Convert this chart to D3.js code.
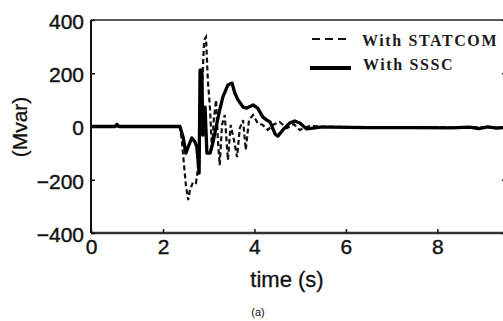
<!DOCTYPE html>
<html>
<head>
<meta charset="utf-8">
<script src="https://cdn.jsdelivr.net/npm/d3@7"></script>
<style>
  body { margin: 0; background: #fff; }
  svg { display: block; }
  .tick-label { font-family: "Liberation Sans", Arial, sans-serif; font-size: 21px; fill: #111; stroke: #111; stroke-width: 0.4px; }
  .legend-text { font-family: "Liberation Serif", "Times New Roman", serif; font-size: 16px; font-weight: bold; letter-spacing: 1.6px; fill: #1a1a1a; }
</style>
</head>
<body>
<svg id="chart"></svg>
<script>
// chart values
var xTicks = [0, 2, 4, 6, 8],
    yTicks = [-400, -200, 0, 200, 400];

var ssscT = [0, 0.67, 0.72, 0.78, 2.37, 2.44, 2.50, 2.55, 2.63, 2.70, 2.74, 2.79, 2.81, 2.85, 2.87, 2.92, 2.96,
             3.03, 3.09, 3.18, 3.24, 3.31, 3.42, 3.51, 3.57, 3.64, 3.75, 3.83, 3.97, 4.07, 4.18, 4.27, 4.34,
             4.45, 4.51, 4.62, 4.77, 4.88, 4.99, 5.14, 5.28, 5.43, 5.65, 6.5, 7.5, 8.3, 8.7, 8.9, 9.1, 9.3, 9.5];
var ssscQ = [0, 0, 8, 0, 0, -40, -100, -77, -43, -58, -77, -175, 212, 212, -32, 73, -100,
             -100, -62, 13, 62, 111, 156, 163, 126, 100, 73, 69, 81, 69, 36, 24, 17,
             -28, -36, -13, 13, 21, 13, -9, -6, -2, -2, -4, -4, -5, -2, -8, -1, -6, -3];

var statcomT = [0, 2.37, 2.41, 2.46, 2.50, 2.55, 2.59, 2.66, 2.72, 2.76, 2.83, 2.90, 2.94, 2.98, 3.03, 3.07,
                3.11, 3.16, 3.20, 3.24, 3.29, 3.35, 3.42, 3.48, 3.55, 3.62, 3.68, 3.75, 3.81, 3.88, 3.97,
                4.07, 4.18, 4.29, 4.40, 4.55, 4.71, 4.86, 4.99, 5.21, 5.43, 6.5, 7.5, 8.5, 9.5];
var statcomQ = [0, 0, -50, -145, -220, -276, -238, -208, -212, -163, 62, 325, 336, 175, 62, -88,
                24, 100, -50, -145, 6, 43, -126, 6, -50, -115, -6, 24, -88, 24, 43,
                13, 6, -13, 6, 17, -6, 9, -13, 2, 0, -3, -2, -3, -3];

var legendNames = ["With STATCOM", "With SSSC"];

var width = 503,
    height = 321;

var svg = d3.select("#chart")
    .attr("width", width)
    .attr("height", height);

// the printed axis is compressed between 0 and 2, so the scale is piecewise
var x = d3.scaleLinear().domain([0, 2, 9.5]).range([91, 163, 506]);
var y = d3.scaleLinear().domain([-400, 400]).range([233, 20]);

svg.append("clipPath").attr("id", "plotclip")
    .append("rect")
    .attr("x", x(0)).attr("y", y(400))
    .attr("width", x(9.5) - x(0)).attr("height", y(-400) - y(400));

var line = d3.line()
    .x(function(d) { return x(d[0]); })
    .y(function(d) { return y(d[1]); });

var plot = svg.append("g").attr("clip-path", "url(#plotclip)");

plot.append("path")
    .datum(d3.zip(statcomT, statcomQ))
    .attr("d", line)
    .attr("fill", "none")
    .attr("stroke", "#111")
    .attr("stroke-width", 2.2)
    .attr("stroke-dasharray", "5,3");

plot.append("path")
    .datum(d3.zip(ssscT, ssscQ))
    .attr("d", line)
    .attr("fill", "none")
    .attr("stroke", "#000")
    .attr("stroke-width", 3.3)
    .attr("stroke-linejoin", "round");

// frame
svg.append("line")
    .attr("x1", x(0)).attr("x2", width).attr("y1", y(400)).attr("y2", y(400))
    .attr("stroke", "#222").attr("stroke-width", 1.5);
svg.append("line")
    .attr("x1", x(0)).attr("x2", x(9.5)).attr("y1", y(-400)).attr("y2", y(-400))
    .attr("stroke", "#333").attr("stroke-width", 2.5);
svg.append("line")
    .attr("x1", x(0)).attr("x2", x(0)).attr("y1", y(400)).attr("y2", y(-400))
    .attr("stroke", "#111").attr("stroke-width", 2);

// axes, ticks pointing inward
var xAxis = svg.append("g")
    .attr("transform", "translate(0," + y(-400) + ")")
    .call(d3.axisBottom(x).tickValues(xTicks).tickSize(-4).tickPadding(8).tickFormat(d3.format("d")));
var yAxis = svg.append("g")
    .attr("transform", "translate(" + x(0) + ",0)")
    .call(d3.axisLeft(y).tickValues(yTicks).tickSize(-4).tickPadding(8).tickFormat(d3.format("d")));
var yAxisR = svg.append("g")
    .attr("transform", "translate(" + x(9.5) + ",0)")
    .call(d3.axisRight(y).tickValues(yTicks).tickSize(-4).tickFormat(""));

[xAxis, yAxis, yAxisR].forEach(function(g) {
    g.select(".domain").remove();
    g.selectAll(".tick line").attr("stroke", "#111").attr("stroke-width", 1.5);
});
xAxis.selectAll(".tick text").attr("class", "tick-label").attr("dy", "0.75em").attr("y", 5);
yAxis.selectAll(".tick text").attr("class", "tick-label").attr("dy", "0.4em").attr("x", -7);

// axis titles
svg.append("text")
    .attr("x", 287).attr("y", 287)
    .attr("text-anchor", "middle")
    .attr("font-family", "Liberation Sans, Arial, sans-serif")
    .attr("font-size", 22)
    .attr("fill", "#111")
    .attr("stroke", "#111").attr("stroke-width", 0.3)
    .text("time (s)");

svg.append("text")
    .attr("transform", "translate(27,127) rotate(-90)")
    .attr("text-anchor", "middle")
    .attr("font-family", "Liberation Sans, Arial, sans-serif")
    .attr("font-size", 21)
    .attr("fill", "#111")
    .attr("stroke", "#111").attr("stroke-width", 0.3)
    .text("(Mvar)");

svg.append("text")
    .attr("x", 258).attr("y", 316)
    .attr("text-anchor", "middle")
    .attr("font-family", "Liberation Sans, Arial, sans-serif")
    .attr("font-size", 11)
    .attr("fill", "#111")
    .text("(a)");

// legend
var legend = svg.append("g");
legend.append("line")
    .attr("x1", 312).attr("x2", 350).attr("y1", 39).attr("y2", 39)
    .attr("stroke", "#111").attr("stroke-width", 2).attr("stroke-dasharray", "8,5");
legend.append("text").attr("class", "legend-text")
    .attr("x", 362).attr("y", 46).text(legendNames[0]);
legend.append("line")
    .attr("x1", 310).attr("x2", 351).attr("y1", 68).attr("y2", 68)
    .attr("stroke", "#000").attr("stroke-width", 4);
legend.append("text").attr("class", "legend-text")
    .attr("x", 363).attr("y", 70).text(legendNames[1]);
</script>
</body>
</html>
